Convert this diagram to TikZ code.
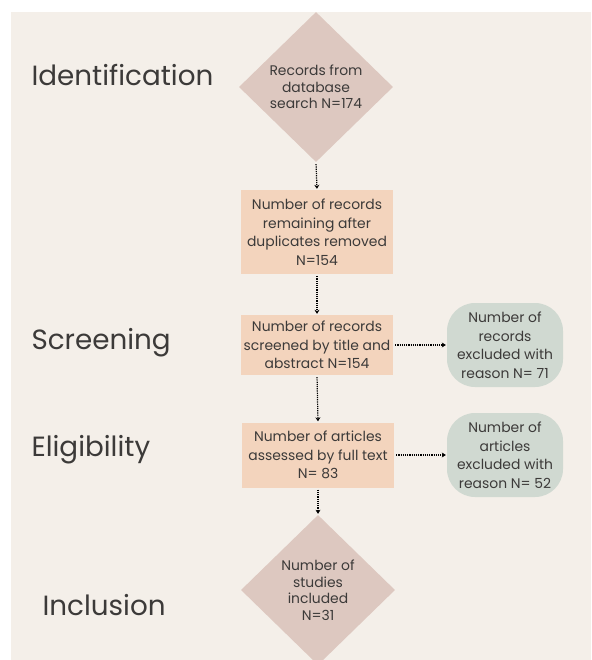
\documentclass[tikz,border=0pt]{standalone}
\usepackage{fontspec}
\setmainfont{Poppins}
\usetikzlibrary{shapes.geometric,arrows.meta}
\definecolor{panel}{HTML}{F4EFE9}
\definecolor{rose}{HTML}{DDC8C0}
\definecolor{peach}{HTML}{F3D4BD}
\definecolor{sage}{HTML}{D0D9D1}
\definecolor{ink}{HTML}{3C3A39}
\tikzset{
    stage/.style={anchor=west, text=ink, font=\fontsize{27.8}{32}\selectfont},
    gate/.style={diamond, fill=rose, text=ink, inner sep=0pt, minimum width=154pt, minimum height=150pt, align=center, font=\fontsize{13.9}{16.5}\selectfont},
    stepbox/.style={rectangle, fill=peach, text=ink, inner sep=0pt, minimum width=152pt, align=center, font=\fontsize{13.9}{18.5}\selectfont},
    outbox/.style={rectangle, rounded corners=28pt, fill=sage, text=ink, inner sep=0pt, minimum width=116pt, minimum height=84pt, align=center, font=\fontsize{13.9}{18.5}\selectfont},
    flow/.style={densely dotted, line width=1.2pt, -{Stealth[length=4pt,width=5pt]}, shorten <=2pt, shorten >=1pt},
}
\begin{document}
\begin{tikzpicture}[x=1pt,y=-1pt]
    \useasboundingbox (0,0) rectangle (591,660);
    \fill[panel] (11,12) rectangle (591,660);
    % phase labels
    \node[stage] (ident) at (28,75) {Identification};
    \node[stage] (screen) at (28,343) {Screening};
    \node[stage] (elig) at (28,450) {Eligibility};
    \node[stage] (incl) at (39,605) {Inclusion};
    % main column
    \node[gate] (search) at (316,87) {Records from\\database\\search N=174};
    \node[stepbox, minimum height=84pt] (dedup) at (317,232) {Number of records\\remaining after\\duplicates removed\\N=154};
    \node[stepbox, minimum height=60pt] (screened) at (317,345) {Number of records\\screened by title and\\abstract N=154};
    \node[stepbox, minimum height=65pt] (assessed) at (318,455) {Number of articles\\assessed by full text\\N= 83};
    \begin{scope}
        \clip (11,12) rectangle (591,660);
        \node[gate] (included) at (318,590) {Number of\\studies\\included\\N=31};
    \end{scope}
    % exclusions
    \node[outbox] (exrec) at (505,345) {Number of\\records\\excluded with\\reason N= 71};
    \node[outbox] (exart) at (505,455) {Number of\\articles\\excluded with\\reason N= 52};
    % connectors
    \draw[flow] (search.south) -- (dedup.north);
    \draw[flow] (dedup.south) -- (screened.north);
    \draw[flow] (screened.south) -- (assessed.north);
    \draw[flow] (assessed.south) -- (included.north);
    \draw[flow] (screened.east) -- (exrec.west);
    \draw[flow] (assessed.east) -- (exart.west);
\end{tikzpicture}
\end{document}
